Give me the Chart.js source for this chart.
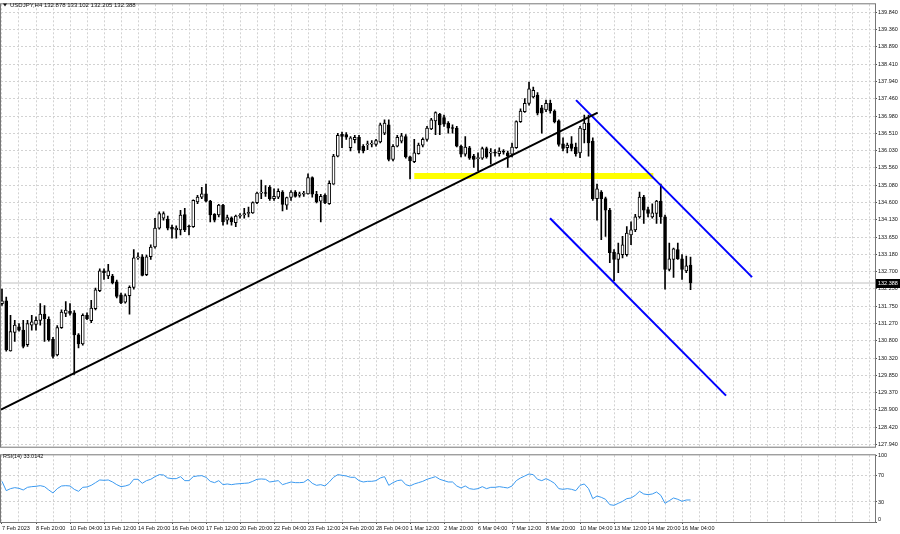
<!DOCTYPE html>
<html>
<head>
<meta charset="utf-8">
<script src="https://cdn.jsdelivr.net/npm/chart.js@4.4.0/dist/chart.umd.min.js"></script>
<style>
  html, body { margin: 0; padding: 0; background: #fff; }
  #wrap { position: relative; width: 900px; height: 534px; overflow: hidden; background: #fff; }
  canvas { position: absolute; left: 0; }
  #price { top: 0; }
  #rsi { top: 451px; }
</style>
</head>
<body>
<div id="wrap">
  <canvas id="price" width="900" height="451"></canvas>
  <canvas id="rsi" width="900" height="83"></canvas>
</div>
<script>
// USDJPY H4, one candle per 4 hours, 7 Feb 2023 -> 16 Mar 2023
const opens = [131.82,131.90,130.52,131.03,131.18,131.09,130.69,131.23,131.25,131.36,
  131.53,131.39,130.84,130.41,131.16,131.55,131.61,131.57,130.96,130.71,
  131.50,131.35,131.68,132.18,132.72,132.58,132.58,132.42,132.06,131.86,
  132.04,132.27,133.08,133.11,132.62,133.11,133.38,133.90,134.17,134.15,
  133.92,133.85,133.85,134.27,133.94,133.94,134.62,134.75,134.84,134.64,
  134.28,134.26,134.53,134.12,134.18,134.05,134.23,134.26,134.30,134.32,
  134.60,134.86,134.86,135.02,134.71,134.75,134.89,134.53,134.74,134.89,
  134.80,134.83,134.84,135.29,134.83,134.64,134.80,134.57,135.11,135.88,
  136.48,136.47,136.11,136.33,136.40,136.15,136.19,136.21,136.20,136.27,
  136.51,136.74,135.79,136.15,136.29,136.42,135.86,135.73,135.95,136.18,
  136.34,136.63,136.85,137.03,136.94,136.79,136.66,136.65,136.15,135.93,
  136.11,135.88,135.81,135.82,136.09,135.96,135.98,135.95,136.00,135.97,
  135.93,136.11,136.83,137.10,137.33,137.51,137.56,137.21,137.15,137.33,
  137.12,136.85,136.22,136.11,136.22,136.13,135.97,136.61,136.79,136.29,
  134.71,134.89,134.71,134.39,133.24,133.04,133.17,133.17,133.71,133.85,
  134.21,134.75,134.41,134.21,134.30,134.64,134.21,132.76,133.04,133.31,
  133.05,132.72,132.878]
const highs = [132.22,132.00,131.50,131.36,131.27,131.36,131.36,131.50,131.46,131.82,
  131.77,131.46,130.89,131.22,131.65,131.88,131.82,131.63,131.00,131.54,
  131.57,131.91,132.25,132.78,132.78,132.90,132.63,132.47,132.11,132.09,
  132.31,133.31,133.22,133.17,133.16,133.44,134.17,134.35,134.35,134.23,
  133.98,133.96,134.39,134.44,133.98,134.68,134.80,135.02,135.11,134.66,
  134.30,134.55,134.55,134.26,134.21,134.26,134.30,134.44,134.48,134.62,
  134.89,135.22,135.07,135.07,134.98,134.98,134.93,134.75,134.93,134.93,
  134.89,134.91,135.39,135.31,134.91,134.83,134.84,135.20,135.93,136.51,
  136.54,136.53,136.42,136.45,136.45,136.20,136.29,136.31,136.34,136.79,
  136.88,136.88,136.20,136.45,136.51,136.47,135.88,136.34,136.24,136.38,
  136.70,136.92,137.10,137.06,137.01,136.83,136.74,136.70,136.18,136.42,
  136.15,135.93,135.97,136.13,136.13,136.09,136.06,136.11,136.06,136.02,
  136.24,136.85,137.18,137.46,137.92,137.78,137.63,137.28,137.42,137.42,
  137.15,136.88,136.38,136.24,136.42,136.24,136.70,137.01,137.01,136.38,
  135.11,134.93,134.75,134.44,133.31,133.49,133.67,133.94,134.07,134.28,
  134.89,134.80,134.48,134.57,134.66,135.11,134.26,133.49,133.35,133.49,
  133.17,133.13,133.102]
const lows = [131.77,130.51,130.51,130.78,131.06,130.60,130.64,131.09,131.09,131.23,
  130.78,130.79,130.32,130.38,131.14,131.46,131.50,129.87,130.60,130.68,
  131.38,131.30,131.65,132.15,132.49,132.51,132.36,131.98,131.82,131.83,
  131.53,132.22,133.04,132.58,132.59,133.04,133.35,133.87,134.12,133.85,
  133.62,133.62,133.71,133.80,133.71,133.92,134.57,134.71,134.62,134.07,
  134.07,134.21,133.98,134.01,133.98,133.94,134.17,134.17,134.21,134.30,
  134.57,134.71,134.77,134.66,134.66,134.71,134.37,134.41,134.66,134.75,
  134.75,134.77,134.83,134.75,134.59,134.07,134.57,134.55,135.10,135.86,
  136.11,136.34,136.02,136.24,135.97,135.97,136.06,136.13,136.15,136.24,
  136.47,135.75,135.75,136.13,136.24,135.82,135.25,135.70,135.93,136.13,
  136.29,136.61,136.47,136.47,136.70,136.51,136.51,136.13,135.86,135.88,
  135.79,135.57,135.48,135.79,135.82,135.66,135.88,135.88,135.93,135.57,
  135.86,136.09,136.81,137.08,137.28,137.48,137.01,136.51,137.10,137.06,
  136.79,136.15,136.02,135.97,136.02,135.88,135.84,136.24,135.88,134.66,
  134.12,133.58,133.67,132.95,132.45,132.67,133.08,133.13,133.44,133.80,
  134.17,134.03,134.21,134.17,134.03,134.03,132.22,132.72,132.54,133.04,
  132.49,132.67,132.205]
const closes = [131.90,130.55,131.05,131.23,131.09,130.64,131.27,131.32,131.36,131.53,
  131.41,130.82,130.37,131.16,131.59,131.64,131.55,130.96,130.71,131.50,
  131.41,131.70,132.20,132.72,132.67,132.72,132.40,132.02,131.84,132.04,
  132.27,133.08,133.11,132.60,133.11,133.38,133.90,134.30,134.30,133.90,
  133.87,133.90,134.26,133.85,133.93,134.66,134.75,134.84,134.64,134.26,
  134.12,134.53,134.07,134.19,134.07,134.23,134.26,134.30,134.33,134.60,
  134.86,134.89,134.85,134.71,134.77,134.91,134.55,134.74,134.89,134.77,
  134.84,134.86,135.29,134.83,134.62,134.77,134.59,135.13,135.88,136.45,
  136.42,136.40,136.38,136.40,136.04,136.02,136.21,136.22,136.31,136.74,
  136.79,135.79,136.15,136.40,136.44,135.86,135.75,135.97,136.18,136.34,
  136.65,136.88,137.08,136.74,136.76,136.65,136.64,136.15,135.93,136.13,
  135.82,135.79,135.83,136.09,135.86,135.98,135.96,136.02,135.99,135.88,
  136.13,136.83,137.12,137.33,137.73,137.69,137.06,137.06,137.33,137.12,
  136.83,136.20,136.09,136.18,136.09,135.95,136.65,136.79,136.24,134.71,
  134.98,134.71,134.39,133.22,133.04,133.20,133.44,133.76,133.85,134.21,
  134.75,134.39,134.30,134.32,134.64,134.21,132.76,133.05,133.33,133.05,
  132.76,132.86,132.388]
const rsi = [61,47,50,51.5,50.5,48,52,53,53.5,54.5,
  53,48,43.5,50,54,54.5,54,49,46,52,
  52.5,55,59,63,62.5,63,60,56,53,54,
  56,64,64,58,62,64,68,71,70.5,66,
  65,65,68,62,62,68,69,69.5,67,61,
  59,62,56,57,56,57,57.5,58,58.5,61,
  64,64.5,64,60,61,62,56,58,60,59,
  59,59.5,64,58,55,56,54,60,67,71,
  70,69,67,67,62,60,61,61,62,66,
  68,55,59,62,63,56,54,57,59,61,
  64,66,68,64,62,60,60,54,51,54,
  50,49,50,53,50,52,52,53,52,51,
  54,62,66,69,72,71,64,62,65,62,
  58,50,49,50,49,47,55,57,50,35,
  39,37,34,26,25,28,31,35,36,40,
  46,42,41,42,45,40,28,32,36,34,
  31,33,33.0142]

const xLabels = ['7 Feb 2023','8 Feb 20:00','10 Feb 04:00','13 Feb 12:00','14 Feb 20:00',
  '16 Feb 04:00','17 Feb 12:00','20 Feb 20:00','22 Feb 04:00','23 Feb 12:00','24 Feb 20:00',
  '28 Feb 04:00','1 Mar 12:00','2 Mar 20:00','6 Mar 04:00','7 Mar 12:00','8 Mar 20:00',
  '10 Mar 04:00','13 Mar 12:00','14 Mar 20:00','16 Mar 04:00']
const priceTicks = [139.840,139.360,138.890,138.410,137.940,137.460,136.980,136.510,136.030,
  135.560,135.080,134.600,134.130,133.650,133.180,132.700,132.230,131.750,131.270,130.800,
  130.320,129.850,129.370,128.900,128.420,127.940]
const rsiTicks = [0, 30, 70, 100]

// drawn objects, in [bar index, price]
const trendBlack = [[-0.235, 128.904], [140.16, 137.075]]
const levelYellow = [[97.0, 135.33], [153.25, 135.33]]
const channelTop = [[135.06, 137.42], [176.47, 132.55]]
const channelBottom = [[128.94, 134.17], [170.35, 129.29]]

const symbol = 'USDJPY,H4'
const xMin = -0.235, xMax = 205.4
const gridColor = '#d2d2d2'

Chart.defaults.font.family = '"Liberation Sans", Arial, sans-serif'
Chart.defaults.font.size = 5.5
Chart.defaults.color = '#111'

const gridIdx = []
for (let i = 0; i <= 204; i += 4) gridIdx.push(i)

const last = closes.length - 1
const pts = arr => arr.map(p => ({ x: p[0], y: p[1] }))

const frame = {
  id: 'frame',
  afterDraw(chart) {
    const { ctx, chartArea: a } = chart
    ctx.save()
    ctx.strokeStyle = '#777'
    ctx.lineWidth = 1
    ctx.strokeRect(a.left - 0.5, a.top - 0.5, a.right - a.left + 1, a.bottom - a.top + 1)
    ctx.restore()
  }
}

const priceTexts = {
  id: 'priceTexts',
  afterDraw(chart) {
    const { ctx } = chart
    ctx.save()
    // title
    ctx.fillStyle = '#111'
    ctx.beginPath()
    ctx.moveTo(3, 3.5); ctx.lineTo(7, 3.5); ctx.lineTo(5, 6.5); ctx.closePath()
    ctx.fill()
    ctx.font = '6px "Liberation Sans", Arial, sans-serif'
    ctx.textBaseline = 'middle'
    ctx.fillText(symbol + ' ' + [opens[last], highs[last], lows[last], closes[last]].map(v => v.toFixed(3)).join(' '), 10, 5)
    // last price box
    const y = chart.scales.y.getPixelForValue(closes[last])
    ctx.fillStyle = '#000'
    ctx.fillRect(876, Math.round(y) - 4, 24, 9)
    ctx.fillStyle = '#fff'
    ctx.font = '5.5px "Liberation Sans", Arial, sans-serif'
    ctx.fillText(closes[last].toFixed(3), 878, Math.round(y) + 0.5)
    ctx.restore()
  }
}

const bodyData = closes.map((c, i) => ({ x: i, y: [opens[i], c] }))
const wickData = closes.map((c, i) => ({ x: i, y: [lows[i], highs[i]] }))
const bodyColors = closes.map((c, i) => c >= opens[i] ? '#ffffff' : '#000000')

new Chart(document.getElementById('price'), {
  type: 'bar',
  data: {
    datasets: [
      { type: 'line', data: pts([[xMin - 1, closes[last]], [xMax + 1, closes[last]]]), borderColor: '#c0c0c0', borderWidth: 1, pointRadius: 0, order: 5 },
      { type: 'line', data: pts(levelYellow), borderColor: '#ffff00', borderWidth: 6, pointRadius: 0, order: 4 },
      { type: 'bar', data: wickData, backgroundColor: '#000', borderWidth: 0, barThickness: 1, grouped: false, order: 3 },
      { type: 'bar', data: bodyData, backgroundColor: bodyColors, borderColor: '#000', borderWidth: 1, borderSkipped: false, barThickness: 3, minBarLength: 1, grouped: false, order: 2 },
      { type: 'line', data: pts(trendBlack), borderColor: '#000', borderWidth: 2, pointRadius: 0, order: 1 },
      { type: 'line', data: pts(channelTop), borderColor: '#0000ff', borderWidth: 2, pointRadius: 0, order: 1 },
      { type: 'line', data: pts(channelBottom), borderColor: '#0000ff', borderWidth: 2, pointRadius: 0, order: 1 }
    ]
  },
  options: {
    responsive: false,
    animation: false,
    events: [],
    devicePixelRatio: 1,
    layout: { padding: { top: 1, left: 1, bottom: 1, right: 0 } },
    plugins: { legend: { display: false }, tooltip: { enabled: false } },
    scales: {
      x: {
        type: 'linear', min: xMin, max: xMax, offset: false,
        afterBuildTicks: s => { s.ticks = gridIdx.map(v => ({ value: v })) },
        afterFit: s => { s.height = 0 },
        ticks: { display: false },
        grid: { color: gridColor, drawTicks: false, offset: false },
        border: { display: false, dash: [2, 2] }
      },
      y: {
        position: 'right', min: 127.884, max: 140.057,
        afterBuildTicks: s => { s.ticks = priceTicks.map(v => ({ value: v })) },
        afterFit: s => { s.width = 25 },
        ticks: { padding: 1, callback: v => v.toFixed(3) },
        grid: { color: gridColor, tickLength: 2, tickColor: '#555' },
        border: { display: false, dash: [2, 2] }
      }
    }
  },
  plugins: [frame, priceTexts]
})

const rsiTexts = {
  id: 'rsiTexts',
  afterDraw(chart) {
    const { ctx } = chart
    ctx.save()
    ctx.fillStyle = '#111'
    ctx.font = '5.5px "Liberation Sans", Arial, sans-serif'
    ctx.textBaseline = 'middle'
    ctx.fillText('RSI(14) ' + rsi[last].toFixed(4), 3, 5)
    ctx.fillText(String(rsiTicks[3]), 878, 4.5)
    ctx.fillText(String(rsiTicks[0]), 878, 68)
    ctx.restore()
  }
}

new Chart(document.getElementById('rsi'), {
  type: 'line',
  data: {
    datasets: [
      { data: rsi.map((v, i) => ({ x: i, y: v })), borderColor: '#3c9af0', borderWidth: 1, pointRadius: 0, tension: 0 }
    ]
  },
  options: {
    responsive: false,
    animation: false,
    events: [],
    devicePixelRatio: 1,
    layout: { padding: { top: 1, left: 1, bottom: 0, right: 0 } },
    plugins: { legend: { display: false }, tooltip: { enabled: false } },
    scales: {
      x: {
        type: 'linear', min: xMin, max: xMax, offset: false,
        afterBuildTicks: s => { s.ticks = gridIdx.map(v => ({ value: v })) },
        afterFit: s => { s.height = 12 },
        ticks: {
          align: 'start', maxRotation: 0, autoSkip: false, padding: 1,
          callback: v => (v % 8 === 0 && v / 8 < xLabels.length) ? xLabels[v / 8] : ''
        },
        grid: {
          color: gridColor, tickLength: 2, offset: false,
          tickColor: c => (c.tick && c.tick.value % 8 === 0 && c.tick.value / 8 < xLabels.length) ? '#555' : 'transparent'
        },
        border: { display: false, dash: [2, 2] }
      },
      y: {
        position: 'right', min: 0, max: 100,
        afterBuildTicks: s => { s.ticks = rsiTicks.map(v => ({ value: v })) },
        afterFit: s => { s.width = 25 },
        ticks: { padding: 1, callback: v => (v === 30 || v === 70) ? String(v) : '' },
        grid: {
          color: c => (c.tick && (c.tick.value === 30 || c.tick.value === 70)) ? gridColor : 'transparent',
          tickLength: 2, tickColor: '#555'
        },
        border: { display: false, dash: [2, 2] }
      }
    }
  },
  plugins: [frame, rsiTexts]
})
</script>
</body>
</html>
